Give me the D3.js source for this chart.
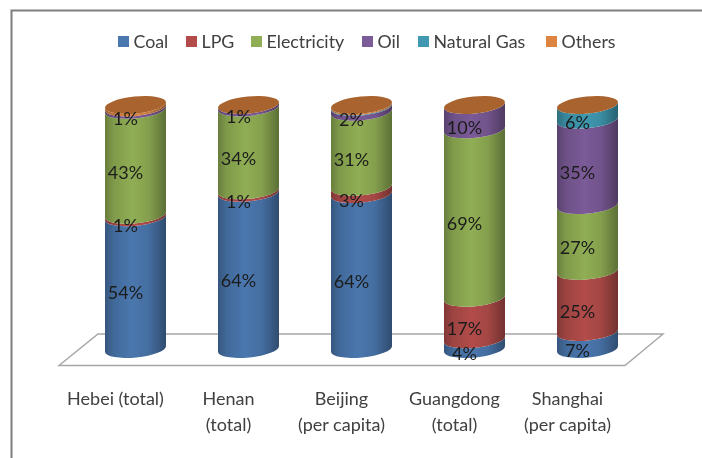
<!DOCTYPE html>
<html>
<head>
<meta charset="utf-8">
<script src="https://cdn.jsdelivr.net/npm/d3@7"></script>
<style>
html, body { margin: 0; padding: 0; background: #fff; overflow: hidden; }
text { font-family: Lato, "Open Sans", sans-serif; }
</style>
</head>
<body>
<div id="chart"></div>
<script>
// DATA
var categories = ["Hebei (total)", "Henan (total)", "Beijing (per capita)", "Guangdong (total)", "Shanghai (per capita)"];
var tickLines = [["Hebei (total)"], ["Henan", "(total)"], ["Beijing", "(per capita)"], ["Guangdong", "(total)"], ["Shanghai", "(per capita)"]];
var seriesNames = ["Coal", "LPG", "Electricity", "Oil", "Natural Gas", "Others"];
var coal = [54, 64, 64, 4, 7];
var lpg = [1, 1, 3, 17, 25];
var electricity = [43, 34, 31, 69, 27];
var oil = [1, 1, 2, 10, 35];
var naturalGas = [0, 0, 0.3, 0, 6];
var others = [1, 0, 0.5, 0, 0];
var seriesValues = [coal, lpg, electricity, oil, naturalGas, others];
var seriesColors = ["#4a77ae", "#b24c4a", "#90ae54", "#7b5b98", "#3f99b1", "#dd8540"];
var topColor = "#a8642e";
var legendSwatchX = [118, 186, 251, 362, 418, 546];

// SIZES
var w = 702;
var h = 458;
var cylWidth = 61;
var depth = 20; // cylinders stand this far right of the front edge of the floor
var rise = 6;   // right edge of a cylinder sits higher than the left
var ry = 8.5;
var tilt = -5.6;

var svg = d3.select("#chart").append("svg").attr("width", w).attr("height", h);
var defs = svg.append("defs");

// the reference is a soft upscaled image
defs.append("filter").attr("id", "soft")
    .append("feGaussianBlur").attr("stdDeviation", 0.45);

var root = svg.append("g").attr("filter", "url(#soft)");

// Define scales
var x = d3.scaleBand().domain(categories).range([59, 624]);
var y = d3.scaleLinear().domain([0, 1]).range([352, 108]);

// Stack normalised to the full cylinder height
var rows = categories.map(function (c, i) {
    var row = { category: c };
    seriesNames.forEach(function (s, j) { row[s] = seriesValues[j][i]; });
    return row;
});
var stacked = d3.stack().keys(seriesNames).offset(d3.stackOffsetExpand)(rows);

// Horizontal shading of each series
seriesColors.forEach(function (color, i) {
    var grad = defs.append("linearGradient").attr("id", "shade-" + i);
    var base = d3.color(color);
    grad.append("stop").attr("offset", "0%").attr("stop-color", base.darker(0.9));
    grad.append("stop").attr("offset", "14%").attr("stop-color", base.darker(0.35));
    grad.append("stop").attr("offset", "45%").attr("stop-color", base);
    grad.append("stop").attr("offset", "72%").attr("stop-color", base.darker(0.25));
    grad.append("stop").attr("offset", "100%").attr("stop-color", base.darker(1.25));
});

// Frame, only left and top are in the picture
root.append("path")
    .attr("d", "M11.5,458V10.5H702")
    .attr("fill", "none")
    .attr("stroke", "#7f7f7f")
    .attr("stroke-width", 2);

// Floor
root.append("path")
    .attr("d", d3.line()([[59, 365.5], [98, 334], [663, 334], [625, 365.5]]) + "Z")
    .attr("fill", "#fff")
    .attr("stroke", "#a6a6a6")
    .attr("stroke-width", 1.4);

function cylLeft(c) {
    return x(c) + x.bandwidth() / 2 + depth - cylWidth / 2;
}

function segmentPath(c, low, high) {
    var left = cylLeft(c);
    var right = left + cylWidth;
    var rx = Math.hypot(cylWidth, rise) / 2;
    var yl = y(low);
    var yh = y(high);
    return "M" + left + "," + yh +
        "A" + rx + "," + ry + " " + tilt + " 0 0 " + right + "," + (yh - rise) +
        "L" + right + "," + (yl - rise) +
        "A" + rx + "," + ry + " " + tilt + " 0 1 " + left + "," + yl + "Z";
}

// Cylinder segments
var layers = root.selectAll(".layer")
    .data(stacked)
    .enter()
    .append("g")
    .attr("class", "layer");

layers.selectAll("path")
    .data(function (d) {
        return d.map(function (p) { return { layer: d.index, c: p.data.category, low: p[0], high: p[1] }; })
            .filter(function (p) { return p.high > p.low; });
    })
    .enter()
    .append("path")
    .attr("d", function (d) { return segmentPath(d.c, d.low, d.high); })
    .attr("fill", function (d) { return "url(#shade-" + d.layer + ")"; });

// Top lids
root.selectAll(".lid")
    .data(categories)
    .enter()
    .append("ellipse")
    .attr("class", "lid")
    .attr("rx", Math.hypot(cylWidth, rise) / 2)
    .attr("ry", ry)
    .attr("transform", function (c) {
        return "translate(" + (cylLeft(c) + cylWidth / 2) + "," + (y(1) - rise / 2) + ")rotate(" + tilt + ")";
    })
    .attr("fill", topColor);

// Value labels, Others and slivers carry none in the reference
stacked.forEach(function (layer) {
    if (layer.key === "Others") return;
    layer.forEach(function (p, i) {
        var v = seriesValues[layer.index][i];
        if (v < 1) return;
        root.append("text")
            .attr("x", x(p.data.category) + x.bandwidth() / 2 + depth - 10)
            .attr("y", y((p[0] + p[1]) / 2) + 7)
            .attr("dy", "0.35em")
            .attr("text-anchor", "middle")
            .attr("font-size", 18)
            .attr("fill", "#1c1c1c")
            .text(v + "%");
    });
});

// Category axis
var axis = root.append("g")
    .attr("transform", "translate(0,387)")
    .call(d3.axisBottom(x).tickSize(0).tickFormat(""));
axis.select(".domain").remove();
axis.selectAll(".tick text").remove();
axis.selectAll(".tick").each(function (c, i) {
    var label = d3.select(this).append("text")
        .attr("text-anchor", "middle")
        .attr("font-size", 18)
        .attr("fill", "#404040");
    tickLines[i].forEach(function (line, k) {
        label.append("tspan").attr("x", 0).attr("y", 18 + k * 26).text(line);
    });
});

// Legend
var legend = root.selectAll(".legend")
    .data(seriesNames)
    .enter()
    .append("g")
    .attr("class", "legend")
    .attr("transform", function (d, i) { return "translate(" + legendSwatchX[i] + ",36)"; });
legend.append("rect")
    .attr("width", 11)
    .attr("height", 11)
    .attr("fill", function (d, i) { return seriesColors[i]; });
legend.append("text")
    .attr("x", 15.5)
    .attr("y", 11.5)
    .attr("font-size", 17.8)
    .attr("fill", "#404040")
    .text(function (d) { return d; });
</script>
</body>
</html>
